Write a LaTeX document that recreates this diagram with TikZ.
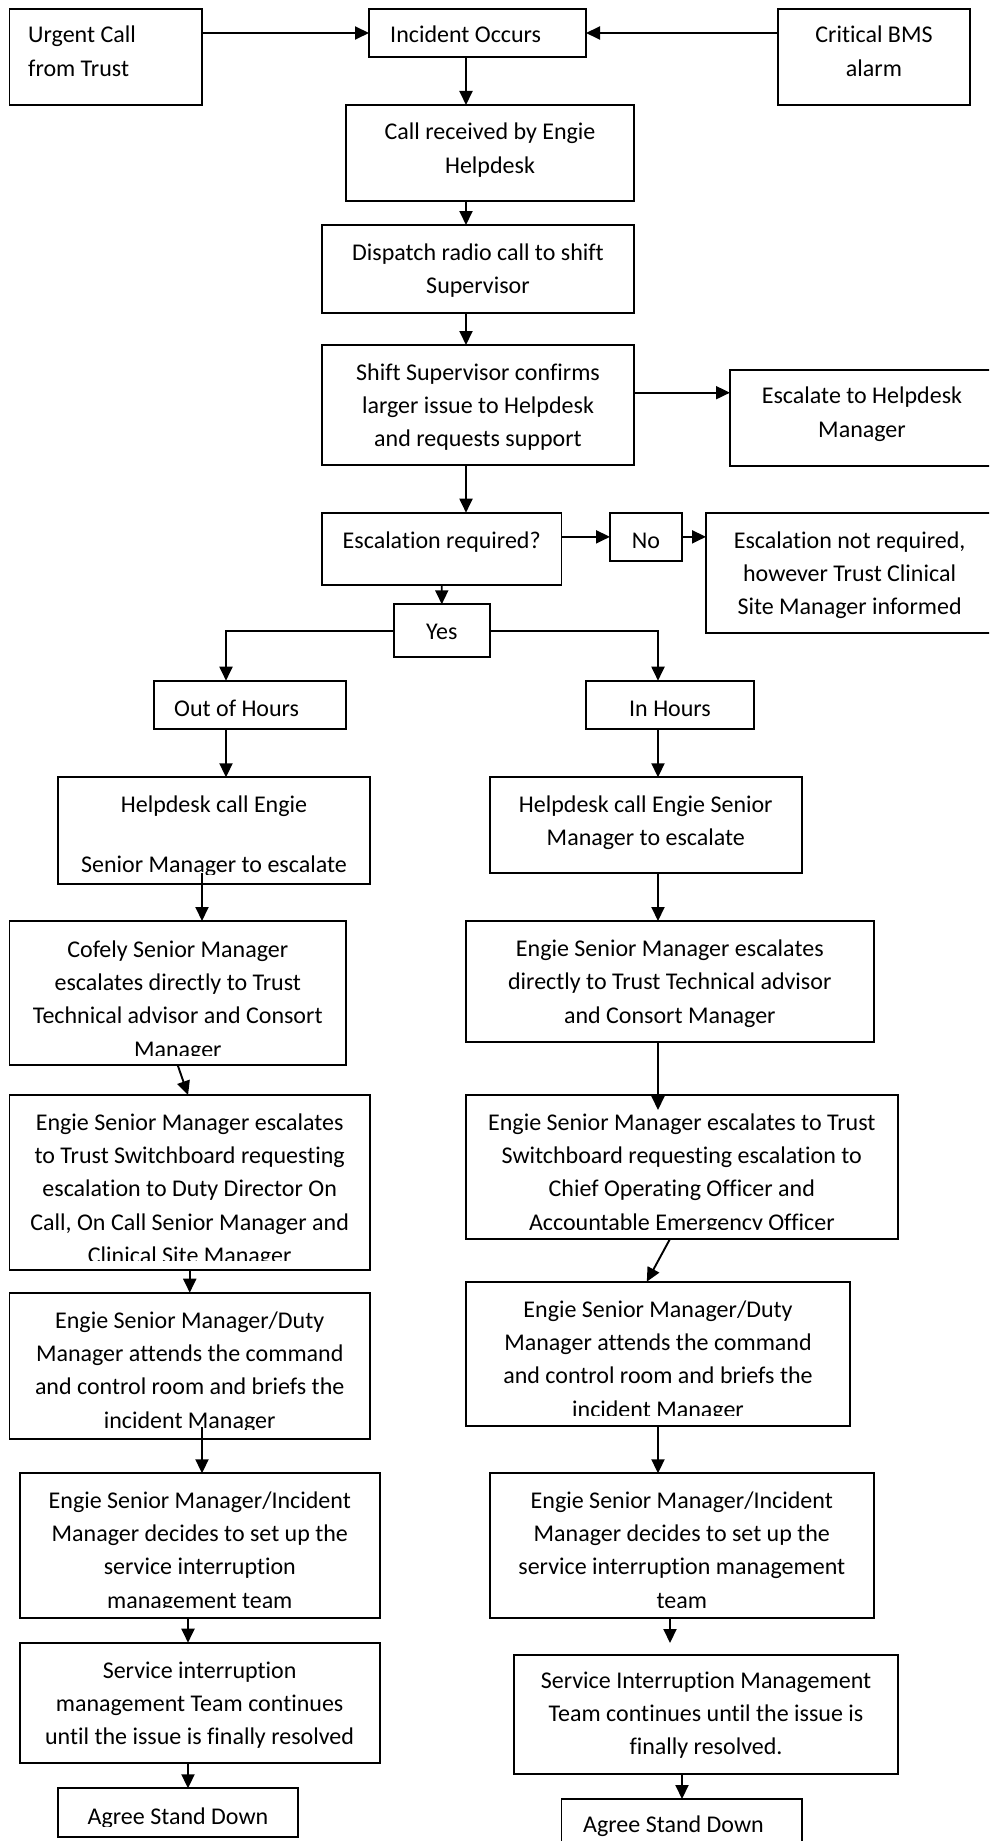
\documentclass[tikz,border=0pt]{standalone}
\usepackage{fontspec}
\setmainfont{Carlito}[Ligatures=NoCommon]
\usetikzlibrary{arrows.meta,calc}
\tikzset{
  box/.style={draw, line width=1.9pt, inner sep=0pt, outer sep=0pt},
  txt/.style={font=\fontsize{24}{33.4}\selectfont, inner sep=0pt, text=black, anchor=base, align=center},
  arr/.style={line width=1.9pt, -{Triangle[length=14pt,width=13pt]}},
}
% name, x1, x2, y1, y2
\newcommand\mkbox[5]{\node[box, minimum width={#3-#2}, minimum height={#5-#4}] (#1) at ({(#2+#3)/2},{(#4+#5)/2}) {};}
% name, options, x, baseline of last line, text
\newcommand\bxtext[5]{\begin{scope}\clip ($(#1.south west)+(0,-10)$) rectangle (#1.north east);\node[txt,#2] (#1-t) at (#3,#4) {#5};\end{scope}}
\begin{document}
\begin{tikzpicture}[x=1pt,y=-1pt]
\clip (0,0) rectangle (989,1841);
\fill[white] (0,0) rectangle (989,1841);
% helper columns
\coordinate (sp) at (466,0);
\coordinate (lx) at (226,0);
\coordinate (rx) at (658,0);
\coordinate (lx2) at (202,0);
\coordinate (lx3) at (188,0);
\coordinate (rx3) at (670,0);
\coordinate (rx4) at (682,0);
% boxes
\mkbox{urgent}{9.5}{202}{9}{105}
\mkbox{incident}{369}{586}{9}{57}
\mkbox{critical}{778}{970}{9}{105}
\mkbox{call}{346}{634}{105}{201}
\mkbox{dispatch}{322}{634}{225}{313}
\mkbox{shift}{322}{634}{345}{465}
\mkbox{eschm}{730}{994}{370}{466}
\mkbox{escreq}{322}{561.5}{512.7}{585.3}
\mkbox{no}{610}{682}{512.7}{561}
\mkbox{notreq}{706}{993}{513}{633}
\mkbox{yes}{394}{489.6}{604.3}{657.3}
\mkbox{ooh}{154}{346}{680.7}{729.3}
\mkbox{inh}{586}{754}{680.7}{729.3}
\mkbox{hdl}{58}{370}{777.3}{884}
\mkbox{hdr}{489.6}{802}{777.3}{873.3}
\mkbox{cofely}{9.5}{346}{921}{1065.3}
\mkbox{esdr}{465.6}{874}{921}{1041.7}
\mkbox{swl}{9.5}{370}{1095}{1270}
\mkbox{swr}{465.6}{898}{1095}{1239.3}
\mkbox{dutyl}{9.5}{370}{1292.7}{1439}
\mkbox{dutyr}{465.6}{850}{1281.7}{1425.7}
\mkbox{incl}{19.6}{380}{1473.3}{1617.7}
\mkbox{incr}{489.6}{874}{1473.3}{1617.7}
\mkbox{servl}{19.6}{380}{1642.7}{1763.3}
\mkbox{servr}{514}{898}{1655}{1774.3}
\mkbox{agreel}{58}{298}{1788.3}{1836.7}
\mkbox{agreer}{561.5}{802}{1799}{1860}
% texts
\bxtext{urgent}{anchor=base west, align=left}{28}{76.1}{Urgent Call\\from Trust}
\bxtext{incident}{anchor=base west, align=left}{390}{43}{Incident Occurs}
\bxtext{critical}{}{874}{76.4}{Critical BMS\\alarm}
\bxtext{call}{}{490}{173.1}{Call received by Engie\\Helpdesk}
\bxtext{dispatch}{}{478}{293.4}{Dispatch radio call to shift\\Supervisor}
\bxtext{shift}{}{478}{446.8}{Shift Supervisor confirms\\larger issue to Helpdesk\\and requests support}
\bxtext{eschm}{}{862}{437.1}{Escalate to Helpdesk\\Manager}
\bxtext{escreq}{}{441.7}{548}{Escalation required?}
\bxtext{no}{}{646}{548}{No}
\bxtext{notreq}{}{849.6}{614.8}{Escalation not required,\\however Trust Clinical\\Site Manager informed}
\bxtext{yes}{}{441.8}{639}{Yes}
\bxtext{ooh}{anchor=base west, align=left}{174}{716}{Out of Hours}
\bxtext{inh}{}{670}{716}{In Hours}
\bxtext{hdl}{}{214}{872}{Helpdesk call Engie\\[26.6pt]Senior Manager to escalate}
\bxtext{hdr}{}{645.8}{845.4}{Helpdesk call Engie Senior\\Manager to escalate}
\bxtext{cofely}{}{177.8}{1057.2}{Cofely Senior Manager\\escalates directly to Trust\\Technical advisor and Consort\\Manager}
\bxtext{esdr}{}{669.8}{1023.1}{Engie Senior Manager escalates\\directly to Trust Technical advisor\\and Consort Manager}
\bxtext{swl}{}{189.7}{1263.6}{Engie Senior Manager escalates\\to Trust Switchboard requesting\\escalation to Duty Director On\\Call, On Call Senior Manager and\\Clinical Site Manager}
\bxtext{swr}{}{681.8}{1230.2}{Engie Senior Manager escalates to Trust\\Switchboard requesting escalation to\\Chief Operating Officer and\\Accountable Emergency Officer}
\bxtext{dutyl}{}{189.7}{1428.2}{Engie Senior Manager/Duty\\Manager attends the command\\and control room and briefs the\\incident Manager}
\bxtext{dutyr}{}{658}{1417.2}{Engie Senior Manager/Duty\\Manager attends the command\\and control room and briefs the\\incident Manager}
\bxtext{incl}{}{199.8}{1608.2}{Engie Senior Manager/Incident\\Manager decides to set up the\\service interruption\\management team}
\bxtext{incr}{}{681.8}{1608.2}{Engie Senior Manager/Incident\\Manager decides to set up the\\service interruption management\\team}
\bxtext{servl}{}{199.6}{1744.8}{Service interruption\\management Team continues\\until the issue is finally resolved}
\bxtext{servr}{}{706}{1754.8}{Service Interruption Management\\Team continues until the issue is\\finally resolved.}
\bxtext{agreel}{}{178}{1824}{Agree Stand Down}
\bxtext{agreer}{anchor=base west, align=left}{583}{1832}{Agree Stand Down}
% connectors
\draw[arr] (urgent.east |- incident.west) -- (incident.west);
\draw[arr] (critical.west |- incident.east) -- (incident.east);
\draw[arr] (sp |- incident.south) -- (sp |- call.north);
\draw[arr] (sp |- call.south) -- (sp |- dispatch.north);
\draw[arr] (sp |- dispatch.south) -- (sp |- shift.north);
\draw[arr] ($(shift.east)+(0,-12.3)$) -- ($(shift.east -| eschm.west)+(0,-12.3)$);
\draw[arr] (sp |- shift.south) -- (sp |- escreq.north);
\draw[arr] (escreq.east |- no.west) -- (no.west);
\draw[arr] (no.east) -- (no.east -| notreq.west);
\draw[arr] (escreq.south) -- (yes.north);
\draw[arr] (yes.west) -| (lx |- ooh.north);
\draw[arr] (yes.east) -| (rx |- inh.north);
\draw[arr] (lx |- ooh.south) -- (lx |- hdl.north);
\draw[arr] (rx |- inh.south) -- (rx |- hdr.north);
\draw[arr] ($(lx2 |- hdl.south)+(0,-11)$) -- (lx2 |- cofely.north);
\draw[arr] (rx |- hdr.south) -- (rx |- esdr.north);
\draw[arr] (cofely.south) -- ($(swl.north)+(-1.7,0)$);
\draw[arr] (rx |- esdr.south) -- ($(rx |- swr.north)+(0,15)$);
\draw[arr] (swl.south) -- (dutyl.north);
\draw[arr] ($(swr.south)+(-12,0)$) -- ($(dutyr.north)+(-11,0)$);
\draw[arr] ($(lx2 |- dutyl.south)+(0,-12)$) -- (lx2 |- incl.north);
\draw[arr] (rx |- dutyr.south) -- (rx |- incr.north);
\draw[arr] (lx3 |- incl.south) -- (lx3 |- servl.north);
\draw[arr] (rx3 |- incr.south) -- ($(rx3 |- servr.north)+(0,-12)$);
\draw[arr] (lx3 |- servl.south) -- (lx3 |- agreel.north);
\draw[arr] (rx4 |- servr.south) -- (rx4 |- agreer.north);
\end{tikzpicture}
\end{document}
